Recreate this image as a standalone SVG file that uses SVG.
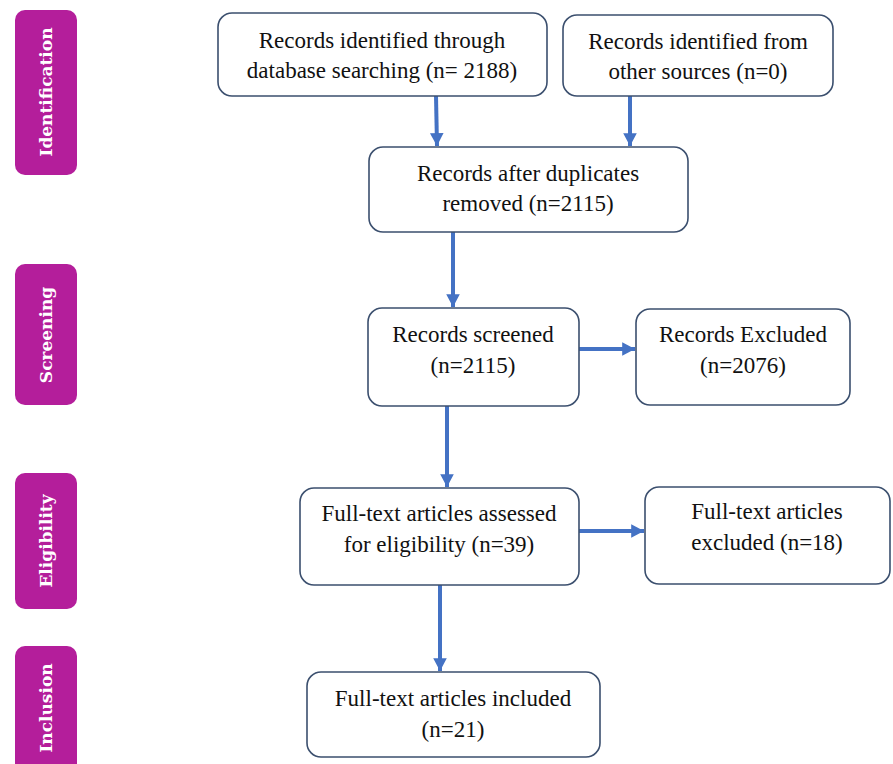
<svg xmlns="http://www.w3.org/2000/svg" width="893" height="764" viewBox="0 0 893 764">
<defs>
<style>
.stage{fill:#B41E9B}
.stxt{fill:#ffffff;font-family:"DejaVu Serif",serif;font-size:17px;font-weight:bold;text-anchor:middle;dominant-baseline:central}
.box{fill:#ffffff;stroke:#3B4F6E;stroke-width:1.6}
.t{fill:#111111;font-family:"Liberation Serif","Times New Roman",serif;font-size:23px;text-anchor:middle}
.arr{stroke:#4472C4;stroke-width:4;fill:none;marker-end:url(#ah)}
</style>
<marker id="ah" markerWidth="4" markerHeight="4" refX="3.2" refY="2" orient="auto" markerUnits="strokeWidth" viewBox="0 0 4 4">
<path d="M0,0.3 L3.2,2 L0,3.7 Z" fill="#4472C4"/>
</marker>
</defs>
<rect width="893" height="764" fill="#ffffff"/>
<g id="stage-identification"><rect class="stage" x="15" y="10" width="62" height="165" rx="10"/><text class="stxt" transform="translate(46,92) rotate(-90)">Identification</text></g>
<g id="stage-screening"><rect class="stage" x="15" y="264" width="62" height="141" rx="10"/><text class="stxt" transform="translate(46,335) rotate(-90)">Screening</text></g>
<g id="stage-eligibility"><rect class="stage" x="15" y="473" width="62" height="136" rx="10"/><text class="stxt" transform="translate(46,541) rotate(-90)">Eligibility</text></g>
<g id="stage-inclusion"><rect class="stage" x="15" y="646" width="62" height="130" rx="10"/><text class="stxt" transform="translate(46,708) rotate(-90)">Inclusion</text></g>
<g id="connectors">
<line class="arr" x1="436" y1="96" x2="437" y2="146"/>
<line class="arr" x1="630" y1="96" x2="630" y2="146"/>
<line class="arr" x1="453" y1="232" x2="453" y2="307"/>
<line class="arr" x1="579" y1="349" x2="635" y2="349"/>
<line class="arr" x1="447" y1="406" x2="447" y2="487"/>
<line class="arr" x1="579" y1="531" x2="644" y2="531"/>
<line class="arr" x1="440" y1="585" x2="440" y2="671"/>
</g>
<g id="n1"><rect class="box" x="218" y="13" width="329" height="83" rx="14"/><text class="t" x="382" y="48">Records identified through</text><text class="t" x="382" y="78">database searching (n= 2188)</text></g>
<g id="n2"><rect class="box" x="563" y="15" width="270" height="81" rx="14"/><text class="t" x="698" y="49">Records identified from</text><text class="t" x="698" y="79">other sources (n=0)</text></g>
<g id="n3"><rect class="box" x="369" y="147" width="319" height="85" rx="14"/><text class="t" x="528" y="181">Records after duplicates</text><text class="t" x="528" y="211">removed (n=2115)</text></g>
<g id="n4"><rect class="box" x="368" y="308" width="211" height="98" rx="14"/><text class="t" x="473" y="342">Records screened</text><text class="t" x="473" y="373">(n=2115)</text></g>
<g id="n5"><rect class="box" x="636" y="309" width="214" height="96" rx="14"/><text class="t" x="743" y="342">Records Excluded</text><text class="t" x="743" y="373">(n=2076)</text></g>
<g id="n6"><rect class="box" x="300" y="488" width="279" height="97" rx="14"/><text class="t" x="439" y="521">Full-text articles assessed</text><text class="t" x="439" y="552">for eligibility (n=39)</text></g>
<g id="n7"><rect class="box" x="645" y="487" width="245" height="97" rx="14"/><text class="t" x="767" y="519">Full-text articles</text><text class="t" x="767" y="550">excluded (n=18)</text></g>
<g id="n8"><rect class="box" x="307" y="672" width="293" height="85" rx="14"/><text class="t" x="453" y="706">Full-text articles included</text><text class="t" x="453" y="737">(n=21)</text></g>
</svg>
